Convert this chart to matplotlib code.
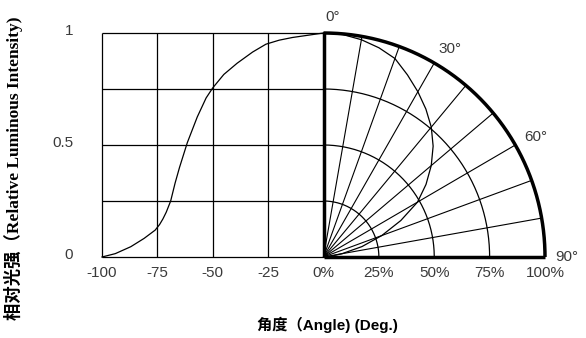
import numpy as np
import matplotlib.pyplot as plt

# left: relative intensity vs angle
angle_left = [-100, -94, -87, -81, -76, -74, -72.5, -71, -69, -67, -65, -61.5, -57, -53, -50, -45, -39, -32, -26, -20, -14, -7, 0]
intensity_left = [0, 0.015, 0.046, 0.083, 0.12, 0.145, 0.17, 0.2, 0.25, 0.33, 0.40, 0.51, 0.625, 0.71, 0.755, 0.815, 0.865, 0.915, 0.95, 0.968, 0.98, 0.99, 1.0]

# right: polar pattern, angle in degrees and radius (fraction)
polar_deg = [0, 5, 10, 15, 20, 25, 30, 35, 40, 45, 50, 55, 60, 65, 70, 75, 80, 85, 90]
polar_r = [1.0, 0.997, 0.985, 0.967, 0.943, 0.897, 0.852, 0.806, 0.757, 0.70, 0.635, 0.565, 0.49, 0.385, 0.28, 0.18, 0.085, 0.03, 0.0]

left_xticks = [-100, -75, -50, -25]
pct_ticks = [0, 25, 50, 75, 100]
pct_labels = ["0%", "25%", "50%", "75%", "100%"]
y_ticks = [0, 0.5, 1]
y_labels = ["0", "0.5", "1"]
angle_labels = [0, 30, 60, 90]

fig = plt.figure(figsize=(5.86, 3.38), dpi=100)
ax = fig.add_axes([102/586, 81/338, 443/586, 224/338])
ax.set_xlim(-100, 100)
ax.set_ylim(0, 1)
ax.axis("off")

k = dict(color="black", clip_on=False, solid_capstyle="butt")

# left grid
for x in [-100, -75, -50, -25]:
    ax.plot([x, x], [0, 1], lw=0.9, **k)
for y in [0, 0.25, 0.5, 0.75, 1]:
    ax.plot([-100, 0], [y, y], lw=0.9, **k)

# quarter polar grid
t = np.radians(np.linspace(0, 90, 200))
for r in [0.25, 0.5, 0.75]:
    ax.plot(100 * r * np.sin(t), r * np.cos(t), lw=0.9, **k)
for d in range(10, 90, 10):
    a = np.radians(d)
    ax.plot([0, 100 * np.sin(a)], [0, np.cos(a)], lw=0.8, **k)
ax.plot(100 * np.sin(t), np.cos(t), lw=2.5, **k)
ax.plot([0, 0], [0, 1], lw=2.5, **k)
ax.plot([0, 100], [0, 0], lw=2.5, **k)

# curves
ax.plot(angle_left, intensity_left, lw=0.9, color="black", clip_on=False)
pr = np.array(polar_r)
pa = np.radians(polar_deg)
ax.plot(100 * pr * np.sin(pa), pr * np.cos(pa), lw=0.9, color="black", clip_on=False)

tc = "#3a3a3a"
fs = 11
for x in left_xticks:
    ax.text(x, -0.04, str(x), ha="center", va="top", fontsize=fs, color=tc, family="Liberation Sans")
for x, s in zip(pct_ticks, pct_labels):
    ax.text(x, -0.04, s, ha="center", va="top", fontsize=fs, color=tc, family="Liberation Sans")
for y, s in zip(y_ticks, y_labels):
    ax.text(-113, y + 0.01, s, ha="right", va="center", fontsize=fs, color=tc, family="Liberation Sans")

for d in angle_labels:
    a = np.radians(d)
    ax.text(106 * np.sin(a) + 4, 1.07 * np.cos(a), f"{d}°", ha="center", va="center",
            fontsize=fs, color=tc, family="Liberation Sans")

fig.text(327/586, 1 - 325/338, "角度（Angle) (Deg.)", ha="center", va="center", fontsize=11,
         fontweight="bold", family=["Liberation Sans", "Noto Sans CJK SC"])
fig.text(14/586, 1 - 168/338, "相对光强（Relative Luminous Intensity)", ha="center", va="center",
         rotation=90, fontsize=12.5, fontweight="bold", family=["Liberation Serif", "Noto Sans CJK SC"])

fig.savefig("out.png", dpi=100)
